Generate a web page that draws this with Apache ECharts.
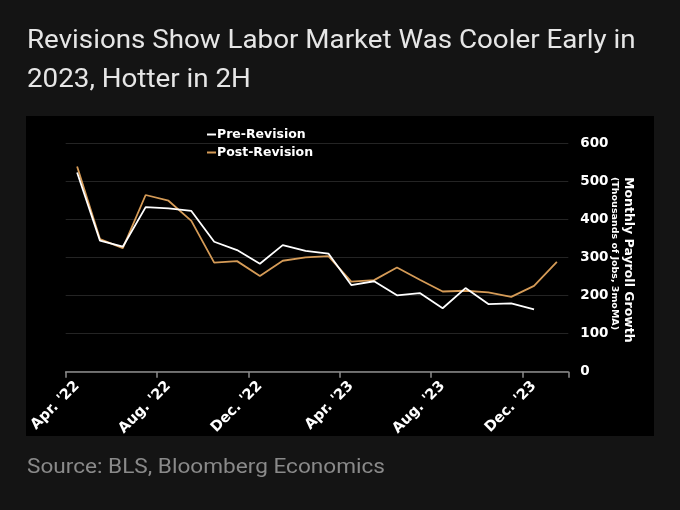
<!DOCTYPE html>
<html>
<head>
<meta charset="utf-8">
<script src="https://cdn.jsdelivr.net/npm/echarts@6/dist/echarts.min.js"></script>
<style>
html,body{margin:0;padding:0;background:#141414;}
#c{width:680px;height:510px;}
</style>
</head>
<body>
<div id="c"></div>
<script>
const months = ["Apr. '22","May '22","Jun. '22","Jul. '22","Aug. '22","Sep. '22","Oct. '22","Nov. '22","Dec. '22","Jan. '23","Feb. '23","Mar. '23","Apr. '23","May '23","Jun. '23","Jul. '23","Aug. '23","Sep. '23","Oct. '23","Nov. '23","Dec. '23","Jan. '24"];
const preRevision = [524,345,329,433,430,423,342,320,284,333,318,311,228,238,201,207,167,220,178,180,164,null];
const postRevision = [540,349,325,465,450,397,287,291,252,292,301,304,237,241,274,242,211,213,209,197,226,289];
const yTicks = [0,100,200,300,400,500,600];

const chart = echarts.init(document.getElementById('c'));
const bold = 'DejaVu Sans';
chart.setOption({
  backgroundColor: '#141414',
  animation: false,
  graphic: [
    {type:'rect', z:-10, shape:{x:26,y:116,width:628,height:320}, style:{fill:'#000'}},
    {type:'text', x:27, y:42, scaleX:1.11, style:{text:'Revisions Show Labor Market Was Cooler Early in', fill:'#e6e6e6', font:'25px Roboto', verticalAlign:'middle'}},
    {type:'text', x:27, y:81, scaleX:1.11, style:{text:'2023, Hotter in 2H', fill:'#e6e6e6', font:'25px Roboto', verticalAlign:'middle'}},
    {type:'text', x:27, y:468, scaleX:1.13, style:{text:'Source: BLS, Bloomberg Economics', fill:'#8a8a8a', font:'20px Roboto', verticalAlign:'middle'}},
    {type:'text', x:628, y:177, rotation:-Math.PI/2, style:{text:'Monthly Payroll Growth', fill:'#fff', font:'bold 12.5px "DejaVu Sans"', align:'left', verticalAlign:'middle'}},
    {type:'text', x:614, y:177, rotation:-Math.PI/2, style:{text:'(Thousands of Jobs, 3moMA)', fill:'#fff', font:'bold 9.5px "DejaVu Sans"', align:'left', verticalAlign:'middle'}}
  ],
  legend: {
    orient:'vertical', left:202, top:123, itemGap:5, itemWidth:9, itemHeight:2,
    icon:'rect',
    textStyle:{color:'#fff', fontFamily:bold, fontWeight:'bold', fontSize:12.5, padding:[0,0,0,-4]},
    data:['Pre-Revision','Post-Revision']
  },
  grid: {left:65.7, right:111.7, top:143.7, bottom:138.3},
  xAxis: {
    type:'category', data:months, boundaryGap:true,
    axisLine:{show:true, lineStyle:{color:'#8c8c8c', width:1.5}},
    axisTick:{show:true, interval:(i) => i % 4 === 0, alignWithLabel:false, length:6, lineStyle:{color:'#8c8c8c', width:1.5}},
    axisLabel:{interval:3, rotate:45, color:'#fff', fontFamily:bold, fontWeight:'bold', fontSize:14.5, margin:12}
  },
  yAxis: {
    type:'value', position:'right', min:0, max:600, interval:100,
    axisLine:{show:false}, axisTick:{show:false},
    splitLine:{lineStyle:{color:'#242424', width:1}},
    axisLabel:{color:'#fff', fontFamily:bold, fontWeight:'bold', fontSize:13.5, margin:12,
      formatter: v => yTicks.includes(v) ? String(v) : ''}
  },
  series: [
    {name:'Pre-Revision', type:'line', data:preRevision, symbol:'none', lineStyle:{color:'#ffffff', width:1.8}, itemStyle:{color:'#ffffff'}, z:3},
    {name:'Post-Revision', type:'line', data:postRevision, symbol:'none', lineStyle:{color:'#D59B57', width:1.8}, itemStyle:{color:'#D59B57'}, z:2}
  ]
});
</script>
</body>
</html>
